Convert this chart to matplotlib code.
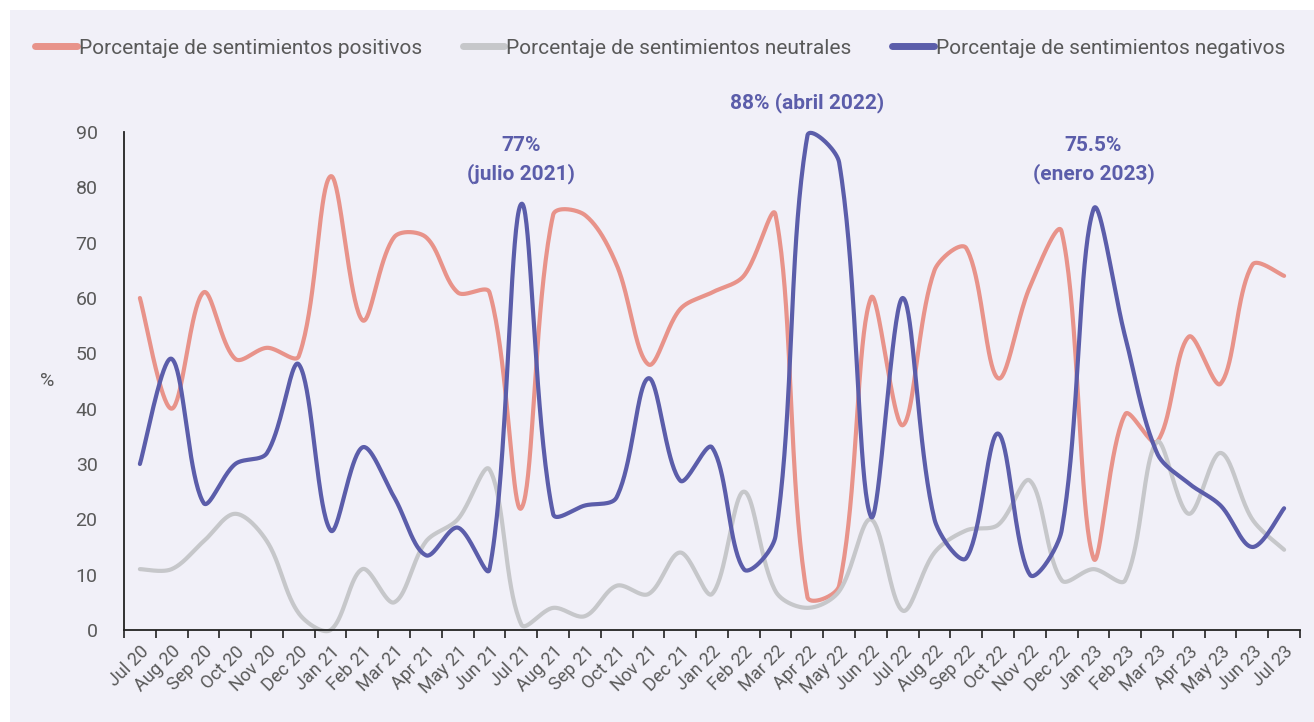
import numpy as np
import matplotlib
matplotlib.use("Agg")
import matplotlib.pyplot as plt
from matplotlib.patches import Rectangle

plt.rcParams['font.family'] = ['Roboto', 'DejaVu Sans']

months = ["Jul 20", "Aug 20", "Sep 20", "Oct 20", "Nov 20", "Dec 20",
          "Jan 21", "Feb 21", "Mar 21", "Apr 21", "May 21", "Jun 21",
          "Jul 21", "Aug 21", "Sep 21", "Oct 21", "Nov 21", "Dec 21",
          "Jan 22", "Feb 22", "Mar 22", "Apr 22", "May 22", "Jun 22",
          "Jul 22", "Aug 22", "Sep 22", "Oct 22", "Nov 22", "Dec 22",
          "Jan 23", "Feb 23", "Mar 23", "Apr 23", "May 23", "Jun 23", "Jul 23"]

positivos = [60, 40, 61, 49, 51, 49.5, 82, 56, 71, 71, 61, 61,
             22, 75, 75, 66, 48, 58, 61, 64, 75, 6, 8, 60,
             37, 65, 69, 45.5, 62, 72, 13, 39, 34, 53, 44.5, 66, 64]
neutrales = [11, 11, 16, 21, 16, 3, 0, 11, 5, 16, 20, 29,
             1, 4, 2.5, 8, 6.5, 14, 6.5, 25, 7, 4, 7, 20,
             3.5, 14, 18, 19, 27, 9, 11, 9, 34, 21, 32, 20, 14.5]
negativos = [30, 49, 23, 30, 32, 48, 18, 33, 24, 13.5, 18.5, 11,
             77, 21, 22.5, 24, 45.5, 27, 33, 11, 17, 89.3, 84.5, 20.5,
             60, 20, 13, 35.5, 10, 18, 76, 53, 32, 26.5, 22.5, 15, 22]

series_names = ["Porcentaje de sentimientos positivos",
                "Porcentaje de sentimientos neutrales",
                "Porcentaje de sentimientos negativos"]
colors = ["#E8938A", "#C6C7CA", "#5B5DAA"]

annotations = [("77%\n(julio 2021)", 12, 85.0),
               ("88% (abril 2022)", 21, 95.3),
               ("75.5%\n(enero 2023)", 30, 85.0)]

# axes geometry in pixels
AX_L, AX_R, AX_B, AX_T = 124, 1300, 630, 132
N = len(months)
SX = (AX_R - AX_L) / N          # px per category
SY = (AX_B - AX_T) / 90.0       # px per unit


def smooth(y, n=40, f=1.0 / 6.0):
    """Chord-length weighted Bezier smoothing (spreadsheet style), in pixel space."""
    P = np.column_stack([np.arange(len(y)) * SX, np.asarray(y, float) * SY])
    m = len(P)
    cin = np.zeros_like(P)
    cout = np.zeros_like(P)
    for i in range(m):
        p0 = P[max(i - 1, 0)]
        p1 = P[i]
        p2 = P[min(i + 1, m - 1)]
        T = p2 - p0
        d01 = np.linalg.norm(p1 - p0)
        d12 = np.linalg.norm(p2 - p1)
        if i == 0 or i == m - 1:
            cin[i] = p1 - T * f
            cout[i] = p1 + T * f
        else:
            s = d01 + d12
            cin[i] = p1 - T * f * 2 * d01 / s
            cout[i] = p1 + T * f * 2 * d12 / s
    xs, ys = [], []
    for i in range(m - 1):
        a, b, c, d = P[i], cout[i], cin[i + 1], P[i + 1]
        t = np.linspace(0, 1, n, endpoint=(i == m - 2))[:, None]
        B = (1 - t) ** 3 * a + 3 * (1 - t) ** 2 * t * b + 3 * (1 - t) * t ** 2 * c + t ** 3 * d
        xs.append(B[:, 0] / SX)
        ys.append(B[:, 1] / SY)
    return np.concatenate(xs), np.concatenate(ys)


fig = plt.figure(figsize=(13.14, 7.22), dpi=100, facecolor="white")
fig.patches.append(Rectangle((10 / 1314, 0), 1 - 10 / 1314, 1 - 10 / 722,
                             transform=fig.transFigure, facecolor="#F1F0F8",
                             edgecolor="none", zorder=-10))

ax = fig.add_axes([AX_L / 1314, 1 - AX_B / 722, (AX_R - AX_L) / 1314, (AX_B - AX_T) / 722])
ax.set_facecolor("none")

x = np.arange(N)
for vals, name, c in zip([positivos, neutrales, negativos], series_names, colors):
    sx, sy = smooth(vals)
    ax.plot(sx, sy, color=c, lw=3.0, label=name, solid_capstyle="round", clip_on=False)

ax.set_xlim(-0.5, N - 0.5)
ax.set_ylim(0, 90)
ax.set_yticks(range(0, 91, 10))
ax.set_xticks(x)
ax.set_xticklabels(months, rotation=45, ha="right", rotation_mode="anchor",
                   fontsize=13, color="#595959")
ax.set_xticks(np.arange(-0.5, N, 1), minor=True)
ax.tick_params(axis="x", which="major", length=0, pad=9)
ax.tick_params(axis="x", which="minor", length=6, width=1.2, color="#222222")
ax.tick_params(axis="y", length=0, pad=19, labelsize=14, labelcolor="#595959")
for s in ["top", "right"]:
    ax.spines[s].set_visible(False)
for s in ["left", "bottom"]:
    ax.spines[s].set_color("#222222")
    ax.spines[s].set_linewidth(1.3)

ax.set_ylabel("%", rotation=0, fontsize=14, color="#595959", va="center")
ax.yaxis.set_label_coords(-0.065, 0.5)

for txt, xi, yv in annotations:
    ax.text(xi, yv, txt, ha="center", va="center", fontsize=15, fontweight="bold",
            color="#5B5DAA", linespacing=1.5)

leg = fig.legend(loc="center left", bbox_to_anchor=(35 / 1314, 1 - 48 / 722), ncol=3,
                 frameon=False, fontsize=15, handlelength=2.0, handletextpad=0.1,
                 columnspacing=1.95, labelcolor="#595959", borderaxespad=0, borderpad=0)
for h in leg.get_lines():
    h.set_linewidth(5)

fig.savefig("out.png", dpi=100, facecolor="white")
